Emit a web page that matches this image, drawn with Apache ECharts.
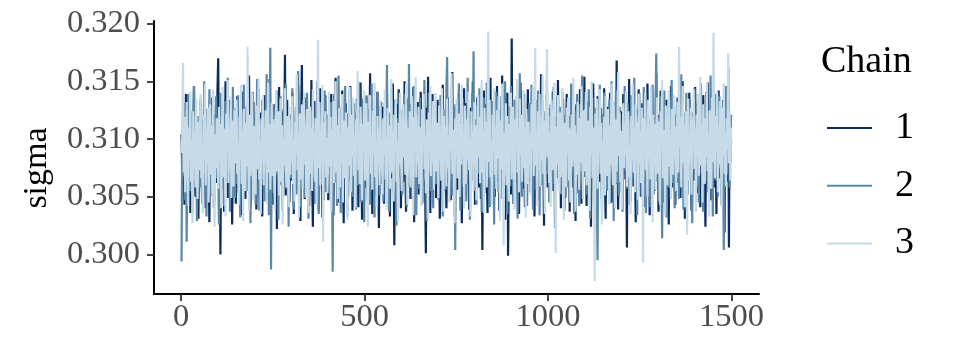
<!DOCTYPE html>
<html><head><meta charset="utf-8">
<script src="https://cdn.jsdelivr.net/npm/echarts@6/dist/echarts.min.js"></script>
<style>html,body{margin:0;padding:0;background:#fff}#c{width:960px;height:360px}</style>
</head><body><div id="c"></div><script>
const chainNames = ['1', '2', '3'];
const iterStart = 1;
const iterStep = 2;
const chain1 = [
.3104,.3067,.3122,.3085,.3043,.3096,.3139,.3071,.3110,.3058,.3091,.3127,.3036,.3079,.3115,.3062,.3100,.3146,.3083,.3050,.3119,.3074,.3093,.3031,.3108,
.3069,.3131,.3087,.3054,.3113,.3078,.3148,.3095,.3040,.3102,.3064,.3125,.3082,.3028,.3117,.3090,.3057,.3136,.3073,.3098,.3046,.3121,.3084,.3062,.3142,
.3170,.3076,.3111,.3000,.3093,.3129,.3061,.3104,.3037,.3086,.3150,.3072,.3097,.3049,.3116,.3081,.3134,.3059,.3101,.3026,.3088,.3124,.3068,.3109,.3044,
.3092,.3137,.3075,.3053,.3119,.3083,.3105,.3034,.3141,.3070,.3096,.3114,.3048,.3087,.3128,.3063,.3099,.3155,.3077,.3041,.3112,.3089,.3066,.3132,.3052,
.3085,.3118,.3039,.3101,.3074,.3143,.3091,.3057,.3123,.3080,.3033,.3107,.3094,.3138,.3065,.3110,.3047,.3082,.3126,.3071,.3152,.3098,.3055,.3115,.3078,
.3043,.3106,.3130,.3068,.3093,.3022,.3117,.3084,.3145,.3061,.3100,.3076,.3124,.3038,.3089,.3112,.3173,.3051,.3097,.3134,.3070,.3108,.3045,.3086,.3121,
.3064,.3140,.3092,.3035,.3109,.3079,.3127,.3056,.3101,.3147,.3073,.3088,.3029,.3114,.3164,.3066,.3095,.3120,.3048,.3083,.3136,.3060,.3103,.3077,.3042,
.3116,.3087,.3151,.3069,.3024,.3098,.3133,.3075,.3110,.3052,.3091,.3126,.3039,.3081,.3144,.3063,.3105,.3032,.3094,.3119,.3071,.3138,.3056,.3099,.3085,
.3047,.3122,.3078,.3107,.3139,.3060,.3092,.3034,.3115,.3083,.3153,.3066,.3100,.3045,.3128,.3074,.3111,.3058,.3096,.3142,.3080,.3027,.3104,.3089,.3131,
.3070,.3097,.3050,.3118,.3086,.3146,.3062,.3109,.3038,.3093,.3124,.3076,.3101,.3055,.3135,.3082,.3041,.3113,.3067,.3149,.3090,.3030,.3106,.3078,.3121,
.3058,.3099,.3137,.3073,.3046,.3112,.3088,.3157,.3064,.3103,.3035,.3126,.3080,.3095,.3051,.3118,.3069,.3141,.3084,.3023,.3109,.3075,.3132,.3061,.3097,
.3128,.3044,.3091,.3115,.3072,.3138,.3057,.3102,.3083,.3033,.3120,.3094,.3066,.3148,.3079,.3008,.3107,.3087,.3130,.3054,.3098,.3143,.3068,.3111,.3040,
.3082,.3125,.3063,.3100,.3150,.3076,.3037,.3114,.3090,.3135,.3059,.3104,.3048,.3121,.3086,.3071,.3145,.3028,.3096,.3117,.3065,.3089,.3132,.3052,.3108,
.3074,.3141,.3093,.3045,.3119,.3081,.3106,.3060,.3001,.3127,.3088,.3154,.3069,.3099,.3036,.3113,.3077,.3139,.3057,.3102,.3084,.3123,.3049,.3095,.3134,
.3066,.3110,.3031,.3087,.3129,.3073,.3147,.3092,.3055,.3116,.3080,.3040,.3105,.3136,.3062,.3097,.3121,.3047,.3085,.3158,.3070,.3112,.3034,.3101,.3079,
.3125,.3056,.3094,.3140,.3068,.3108,.3083,.3027,.3118,.3075,.3144,.3090,.3053,.3131,.3099,.3061,.3114,.3039,.3086,.3127,.3072,.3103,.3150,.3064,.3091,
.3043,.3117,.3079,.3136,.3096,.3058,.3122,.3085,.3048,.3110,.3004,.3089,.3142,.3067,.3104,.3130,.3074,.3036,.3098,.3119,.3081,.3153,.3060,.3093,.3115,
.3071,.3132,.3050,.3101,.3087,.3146,.3063,.3112,.3038,.3095,.3124,.3078,.3155,.3059,.3107,.3083,.3030,.3120,.3092,.3140,.2999,.3069,.3116,.3088,.3052,
.3187,.3076,.3105,.3044,.3128,.3090,.3062,.3137,.3082,.3113,.3035,.3097,.3149,.3073,.3104,.3057,.3126,.3086,.3041,.3118,.3070,.3095,.3143,.3064,.3100,
.3129,.3054,.3091,.3116,.3075,.3145,.3033,.3108,.3084,.3061,.3134,.3097,.3047,.3121,.3079,.3156,.3066,.3103,.3089,.3025,.3114,.3072,.3138,.3093,.3058,
.3110,.3081,.3046,.3127,.3098,.3068,.3141,.3055,.3106,.3087,.3032,.3119,.3074,.3151,.3092,.3062,.3124,.3040,.3101,.3083,.3135,.3070,.3113,.3049,.3096,
.3139,.3065,.3088,.3120,.3037,.3102,.3077,.3147,.3094,.3058,.3116,.3083,.3029,.3130,.3071,.3108,.3053,.3097,.3143,.3081,.3044,.3125,.3090,.3067,.3154,
.3078,.3100,.3042,.3118,.3086,.3133,.3060,.3095,.3024,.3111,.3074,.3148,.3089,.3056,.3122,.3099,.3035,.3137,.3080,.3105,.3063,.3127,.3091,.3048,.3114,
.3085,.3144,.3070,.3031,.3109,.3096,.3128,.3057,.3083,.3140,.3068,.3102,.3045,.3119,.3093,.3076,.3133,.3061,.3168,.3087,.3039,.3112,.3098,.3072,.3124,
.3054,.3107,.3139,.3082,.3117,.3065,.3094,.3006,.3121,.3079,.3152,.3088,.3046,.3110,.3073,.3135,.3059,.3101,.3084,.3028,.3126,.3097,.3067,.3143,.3090,
.3113,.3050,.3086,.3131,.3075,.3104,.3041,.3122,.3092,.3060,.3148,.3080,.3115,.3034,.3099,.3069,.3137,.3087,.3052,.3119,.3078,.3106,.3157,.3063,.3095,
.3037,.3121,.3083,.3142,.3066,.3100,.3127,.3074,.3045,.3109,.3090,.3134,.3056,.3097,.3026,.3116,.3081,.3146,.3071,.3103,.3058,.3125,.3088,.3043,.3111,
.3077,.3136,.3062,.3094,.3118,.3049,.3105,.3082,.3150,.3067,.3099,.3031,.3114,.3086,.3129,.3055,.3092,.3140,.3073,.3108,.3038,.3123,.3084,.3064,.3101,
.3145,.3070,.3112,.3053,.3096,.3131,.3079,.3041,.3117,.3089,.3060,.3138,.3102,.3075,.3024,.3110,.3093,.3149,.3068,.3087,.3120,.3047,.3099,.3133,.3072,
.3106,.3058,.3128,.3091,.3035,.3115,.3081,.3142,.3066,.3097,.3122,.3050,.3088,.3134,.3074,.3019,.3108,.3094,.3139,.3063,.3162,.3006,.3117,.3080,.3098
];
const chain2 = [
.2994,.3102,.3068,.3131,.3085,.3047,.3116,.3011,.3093,.3139,.3072,.3108,.3055,.3124,.3081,.3036,.3099,.3146,.3063,.3112,.3089,.3029,.3120,.3076,.3104,
.3058,.3135,.3091,.3044,.3117,.3082,.3150,.3069,.3101,.3033,.3126,.3087,.3060,.3143,.3095,.3051,.3110,.3074,.3128,.3040,.3098,.3084,.3137,.3066,.3115,
.3079,.3026,.3107,.3140,.3088,.3057,.3121,.3096,.3042,.3133,.3070,.3111,.3085,.3153,.3062,.3100,.3037,.3119,.3090,.3067,.3145,.3078,.3103,.3049,.3127,
.3092,.3061,.3138,.3075,.3113,.3032,.3099,.3124,.3083,.3048,.3147,.3071,.3106,.3089,.3055,.3130,.3064,.3118,.3094,.3027,.3109,.3080,.3141,.3059,.3097,
.3123,.3043,.3086,.3152,.3073,.3104,.3038,.3116,.3091,.3065,.3134,.3079,.3101,.3046,.3125,.3088,.3156,.3062,.3097,.3034,.3112,.3179,.2987,.3108,.3076,
.3130,.3053,.3094,.3120,.3069,.3142,.3084,.3030,.3111,.3077,.3137,.3060,.3099,.3045,.3126,.3090,.3072,.3148,.3057,.3103,.3082,.3024,.3118,.3093,.3066,
.3105,.3144,.3076,.3039,.3115,.3087,.3128,.3052,.3098,.3159,.3070,.3107,.3041,.3122,.3083,.3063,.3134,.3096,.3049,.3117,.3075,.3140,.3091,.3031,.3110,
.3081,.3125,.3058,.3097,.3136,.3067,.3103,.3044,.3119,.3089,.3150,.3073,.3035,.3112,.3094,.3061,.3129,.3079,.3106,.3047,.3142,.3086,.3054,.3121,.3100,
.3069,.3114,.3091,.3048,.3132,.3077,.2985,.3104,.3139,.3062,.3096,.3120,.3042,.3085,.3155,.3071,.3109,.3036,.3127,.3093,.3058,.3116,.3080,.3146,.3067,
.3101,.3033,.3122,.3088,.3143,.3064,.3097,.3118,.3050,.3086,.3131,.3074,.3107,.3039,.3124,.3092,.3060,.3149,.3078,.3113,.3045,.3095,.3135,.3070,.3028,
.3115,.3083,.3138,.3056,.3102,.3071,.3126,.3043,.3090,.3148,.3065,.3110,.3087,.3032,.3120,.3099,.3059,.3141,.3076,.3105,.3051,.3129,.3093,.3068,.3117,
.3046,.3094,.3131,.3078,.3108,.3164,.3063,.3100,.3037,.3123,.3085,.3145,.3070,.3111,.3054,.3096,.3134,.3081,.3025,.3118,.3091,.3066,.3140,.3075,.3103,
.3088,.3052,.3127,.3099,.3139,.3071,.3107,.3041,.3116,.3082,.3165,.3060,.3095,.3130,.3048,.3112,.3086,.3146,.3067,.3101,.3034,.3121,.3079,.3109,.3057,
.3136,.3074,.3098,.3044,.3125,.3089,.3151,.3065,.3106,.3029,.3117,.3083,.3140,.3072,.3097,.3055,.3132,.3090,.3040,.3114,.3077,.3128,.3061,.3102,.3086,
.3047,.3119,.3093,.3138,.3068,.3104,.3033,.3126,.3080,.3110,.3056,.3143,.3171,.3075,.3099,.3062,.3121,.3088,.3145,.3051,.3107,.3084,.3130,.3004,.3096,
.3127,.3066,.3103,.3148,.3079,.3038,.3115,.3090,.3135,.3059,.3100,.3072,.3124,.3046,.3092,.3153,.3081,.3113,.3030,.3098,.3067,.3140,.3087,.3176,.3058,
.3111,.3084,.3043,.3129,.3095,.3070,.3144,.3061,.3106,.3037,.3118,.3089,.3136,.3053,.3101,.3077,.3149,.3066,.3093,.3122,.3041,.3108,.3082,.3133,.3064,
.3097,.3026,.3114,.3087,.3141,.3073,.3102,.3054,.3125,.3091,.3048,.3137,.3078,.3110,.3063,.3094,.3150,.3069,.3120,.3035,.3105,.3083,.3128,.3059,.3146,
.3080,.3119,.3044,.3099,.3134,.3067,.3109,.3085,.3031,.3126,.3092,.3157,.3071,.3103,.3050,.3117,.3088,.3139,.3062,.3096,.3122,.3042,.3111,.3076,.3131,
.3065,.3100,.3147,.3082,.3039,.3114,.3091,.3127,.3056,.3106,.3073,.3142,.3087,.3034,.3120,.3098,.3060,.3133,.3078,.3109,.3049,.3124,.3093,.3152,.3070,
.3113,.3045,.3095,.3130,.3074,.3104,.3061,.3145,.3086,.3023,.3118,.3092,.3137,.3066,.3101,.3080,.3128,.3052,.3097,.3141,.3073,.3108,.3038,.3121,.3089,
.3058,.3132,.3076,.3110,.3047,.3093,.3148,.3069,.3116,.3083,.3035,.3124,.3099,.3063,.3139,.3085,.3107,.3042,.3130,.3072,.3096,.3155,.3061,.3103,.3080,
.3126,.3090,.3052,.3118,.3074,.3143,.3098,.3031,.3111,.3085,.3136,.3067,.3102,.3046,.3127,.3093,.3060,.2995,.3115,.3081,.3147,.3070,.3106,.3039,.3122,
.3087,.3140,.3064,.3099,.3121,.3055,.3110,.3078,.3134,.3044,.3095,.3150,.3072,.3113,.3029,.3104,.3088,.3142,.3062,.3119,.3083,.3051,.3128,.3096,.3068,
.3107,.3037,.3124,.3091,.3146,.3073,.3101,.3057,.3131,.3086,.3116,.3043,.3097,.3138,.3066,.3109,.3080,.3153,.3059,.3094,.3121,.3034,.3112,.3078,.3140,
.3069,.3104,.3050,.3127,.3088,.3145,.3075,.3110,.3036,.3098,.3133,.3064,.3117,.3083,.3041,.3125,.3092,.3147,.3071,.3106,.3055,.3130,.3174,.3087,.3100,
.3046,.3118,.3082,.3137,.3065,.3014,.3111,.3094,.3142,.3073,.3105,.3032,.3126,.3089,.3058,.3134,.3077,.3099,.3151,.3062,.3115,.3085,.3040,.3121,.3096,
.3129,.3067,.3103,.3048,.3116,.3090,.3156,.3074,.3108,.3039,.3123,.3084,.3061,.3140,.3097,.3052,.3113,.3080,.3135,.3068,.3100,.3027,.3119,.3088,.3144,
.3076,.3112,.3059,.3131,.3093,.3045,.3120,.3085,.3148,.3070,.3102,.3037,.3127,.3095,.3063,.3141,.3079,.3109,.3054,.3124,.3090,.3155,.3066,.3099,.3033,
.3118,.3082,.3139,.3064,.3101,.3126,.3050,.3093,.3137,.3075,.3110,.3043,.3128,.3088,.3004,.3115,.3097,.3146,.3069,.3106,.3081,.3132,.3058,.3094,.3121
];
const chain3 = [
.3088,.3103,.3166,.3071,.3119,.3054,.3096,.3132,.3080,.3042,.3110,.3085,.3141,.3063,.3099,.3027,.3124,.3077,.3106,.3058,.3135,.3092,.3048,.3115,.3073,
.3101,.3139,.3066,.3094,.3036,.3121,.3083,.3148,.3060,.3107,.3078,.3127,.3045,.3097,.3130,.3069,.3112,.3052,.3143,.3086,.3024,.3104,.3075,.3118,.3091,
.3057,.3128,.3081,.3113,.3040,.3098,.3145,.3067,.3109,.3084,.3033,.3122,.3094,.3151,.3062,.3100,.3074,.3137,.3049,.3116,.3087,.3059,.3125,.3079,.3105,
.3134,.3070,.3096,.3043,.3119,.3082,.3147,.3061,.3108,.3029,.3126,.3089,.3055,.3114,.3076,.3180,.3093,.3038,.3121,.3068,.3102,.3140,.3080,.3047,.3111,
.3090,.3052,.3129,.3074,.3103,.3153,.3065,.3097,.3035,.3118,.3086,.3138,.3060,.3109,.3079,.3125,.3044,.3094,.3149,.3071,.3113,.3056,.3087,.3131,.3068,
.3117,.3083,.3039,.3106,.3142,.3072,.3098,.3124,.3051,.3090,.3135,.3063,.3112,.3026,.3101,.3077,.3144,.3085,.3058,.3120,.3095,.3041,.3128,.3069,.3107,
.3081,.3137,.3061,.3100,.3046,.3115,.3088,.3156,.3073,.3104,.3032,.3122,.3092,.3065,.3130,.3057,.3097,.3140,.3078,.3111,.3050,.3126,.3084,.3036,.3102,
.3128,.3070,.3109,.3055,.3143,.3086,.3099,.3063,.3118,.3043,.3093,.3186,.3075,.3132,.3060,.3105,.3082,.3147,.3011,.3114,.3089,.3124,.3067,.3101,.3053,
.3094,.3141,.3076,.3119,.3037,.3108,.3084,.3133,.3062,.3097,.3150,.3071,.3112,.3048,.3090,.3127,.3058,.3103,.3080,.3139,.3045,.3116,.3087,.3066,.3123,
.3099,.3030,.3110,.3077,.3145,.3092,.3054,.3121,.3085,.3136,.3068,.3104,.3040,.3117,.3095,.3159,.3073,.3100,.3061,.3128,.3082,.3047,.3113,.3090,.3142,
.3064,.3106,.3131,.3079,.3024,.3115,.3093,.3138,.3070,.3102,.3056,.3125,.3087,.3149,.3067,.3096,.3041,.3120,.3083,.3109,.3060,.3134,.3074,.3098,.3052,
.3118,.3086,.3143,.3065,.3100,.3039,.3127,.3081,.3112,.3057,.3094,.3152,.3072,.3107,.3046,.3121,.3089,.3135,.3063,.3097,.3028,.3114,.3078,.3140,.3091,
.3055,.3103,.3130,.3084,.3116,.3069,.3148,.3095,.3043,.3109,.3076,.3124,.3058,.3099,.3137,.3082,.3034,.3119,.3092,.3154,.3067,.3105,.3080,.3128,.3061,
.3110,.3088,.3042,.3126,.3097,.3139,.3074,.3101,.3053,.3117,.3085,.3031,.3123,.3094,.3146,.3068,.3107,.3079,.3133,.3056,.3100,.3140,.3072,.3090,.3114,
.3049,.3129,.3083,.3106,.3064,.3144,.3096,.3037,.3120,.3087,.3111,.3059,.3135,.3075,.3102,.3045,.3126,.3091,.3157,.3070,.3108,.3081,.3027,.3118,.3093,
.3136,.3066,.3099,.3122,.3050,.3113,.3078,.3147,.3085,.3104,.3040,.3129,.3092,.3061,.3117,.3082,.3141,.3073,.3097,.3033,.3124,.3088,.3106,.3055,.3132,
.3076,.3112,.3047,.3101,.3138,.3084,.3119,.3062,.3095,.3151,.3071,.3108,.3036,.3127,.3089,.3115,.3058,.3102,.3193,.3080,.3134,.3067,.3098,.3043,.3121,
.3090,.3144,.3069,.3110,.3057,.3125,.3083,.3137,.3096,.3029,.3116,.3074,.3148,.3092,.3008,.3105,.3087,.3131,.3060,.3120,.3078,.3046,.3113,.3099,.3140,
.3065,.3102,.3128,.3081,.3039,.3117,.3094,.3152,.3071,.3108,.3054,.3135,.3086,.3121,.3063,.3097,.3142,.3075,.3110,.3032,.3126,.3089,.3061,.3115,.3079,
.3104,.3051,.3130,.3092,.3145,.3068,.3113,.3179,.3077,.3100,.3042,.3124,.3088,.3139,.3059,.3107,.3082,.3155,.3070,.3116,.3035,.3097,.3129,.3178,.3084,
.3120,.3062,.3106,.3041,.3134,.3091,.3073,.3117,.3149,.3085,.3001,.3111,.3078,.3138,.3096,.3053,.3123,.3067,.3102,.3144,.3080,.3030,.3114,.3093,.3058,
.3127,.3088,.3136,.3064,.3109,.3045,.3098,.3121,.3076,.3153,.3083,.3112,.3037,.3104,.3069,.3132,.3091,.3056,.3118,.3079,.3146,.3095,.3048,.3125,.3072,
.3105,.3141,.3060,.3093,.3116,.3074,.3038,.3128,.3087,.3150,.3066,.3110,.3099,.2977,.3122,.3081,.3135,.3057,.3103,.3090,.3143,.3070,.3114,.3026,.3097,
.3083,.3119,.3051,.3137,.3095,.3068,.3126,.3102,.3044,.3112,.3078,.3148,.3089,.3060,.3133,.3096,.3040,.3117,.3072,.3104,.3158,.3085,.3123,.3063,.3107,
.3039,.3098,.3131,.3075,.3114,.3086,.3142,.3059,.3101,.3124,.3067,.3093,.3035,.3120,.3082,.3147,.3071,.3108,.3054,.3130,.3091,.3115,.3047,.3139,.3078,
.3106,.3062,.3127,.3089,.2993,.3118,.3096,.3140,.3073,.3110,.3050,.3134,.3084,.3102,.3065,.3145,.3092,.3028,.3121,.3079,.3113,.3056,.3099,.3136,.3070,
.3115,.3087,.3043,.3124,.3100,.3151,.3066,.3108,.3081,.3034,.3129,.3094,.3060,.3117,.3142,.3076,.3103,.3048,.3126,.3090,.3069,.3138,.3083,.3111,.3055,
.3097,.3132,.3071,.3180,.3093,.3119,.3058,.3105,.3146,.3079,.3112,.3041,.3124,.3088,.3017,.3135,.3064,.3101,.3082,.3127,.3052,.3116,.3095,.3143,.3074,
.3109,.3037,.3121,.3086,.3139,.3068,.3098,.3154,.3077,.3113,.3045,.3130,.3091,.3061,.3118,.3084,.3149,.3072,.3104,.3033,.3125,.3095,.3057,.3136,.3080,
.3192,.3103,.3066,.3120,.3089,.3141,.3054,.3111,.3078,.3133,.3096,.3042,.3127,.3085,.3148,.3070,.3106,.3059,.3118,.3091,.3174,.3079,.3124,.3064,.3110
];
const xTicks = [0, 500, 1000, 1500];
const yTicks = [0.300, 0.305, 0.310, 0.315, 0.320];
const yTitle = 'sigma';
const legendTitle = 'Chain';

const colors = ['#0b2c5c', '#5b88a7', '#c6dae8'];
const FONT = '"Liberation Serif", "Times New Roman", serif';
const chains = [chain1, chain2, chain3];

const series = chains.map((vals, k) => ({
  name: chainNames[k],
  type: 'line',
  showSymbol: false,
  symbol: 'none',
  data: vals.map((v, i) => [iterStart + i * iterStep, v]),
  lineStyle: { width: 2.2, color: colors[k], join: 'miter', miterLimit: 3 },
  itemStyle: { color: colors[k] },
  emphasis: { disabled: true },
  silent: true,
  animation: false
}));

const chart = echarts.init(document.getElementById('c'), null, { renderer: 'canvas' });
chart.setOption({
  backgroundColor: '#ffffff',
  animation: false,
  grid: { left: 154, right: 201, top: 21, bottom: 66 },
  xAxis: {
    type: 'value', min: -74, max: 1575,
    splitLine: { show: false },
    axisLine: { onZero: false, lineStyle: { color: '#000', width: 2 } },
    axisTick: { customValues: xTicks, length: 7, lineStyle: { color: '#333', width: 1.8 } },
    axisLabel: { customValues: xTicks, margin: 7, color: '#4d4d4d', fontFamily: FONT, fontSize: 32.5,
      formatter: v => String(v) }
  },
  yAxis: {
    type: 'value', min: 0.29658, max: 0.32022,
    splitLine: { show: false },
    axisLine: { onZero: false, lineStyle: { color: '#000', width: 2 } },
    axisTick: { customValues: yTicks, length: 7, lineStyle: { color: '#333', width: 1.8 } },
    axisLabel: { customValues: yTicks, margin: 14, color: '#4d4d4d', fontFamily: FONT, fontSize: 32.5,
      formatter: v => Number(v).toFixed(3) }
  },
  legend: {
    data: chainNames, orient: 'vertical', left: 827, top: 109, padding: 0,
    itemWidth: 45, itemHeight: 2, itemGap: 19.7, icon: 'rect', selectedMode: false,
    textStyle: { fontFamily: FONT, fontSize: 38, color: '#000', lineHeight: 38, padding: [0, 0, 0, 18] }
  },
  graphic: [
    { type: 'text', x: 821, y: 62, style: { text: legendTitle, font: '38px ' + FONT, fill: '#000', align: 'left', verticalAlign: 'middle' } },
    { type: 'text', x: 37, y: 168, rotation: Math.PI / 2, style: { text: yTitle, font: '34px ' + FONT, fill: '#000', align: 'center', verticalAlign: 'middle' } }
  ],
  series: series
});
</script></body></html>
